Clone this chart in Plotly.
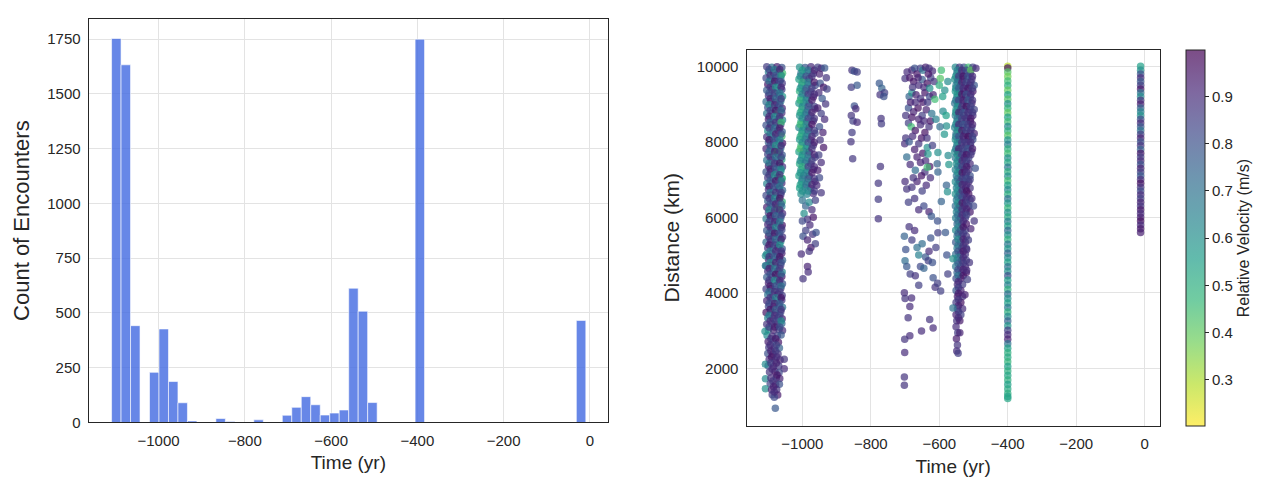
import numpy as np
import plotly.graph_objects as go

# ---- histogram: encounters per time bin (50 bins) ----
bin_min, bin_max = -1109.0, -9.4
hist_counts = [1753, 1633, 442, 0, 229, 427, 187, 90, 7, 0,
               0, 18, 4, 0, 0, 12, 0, 0, 33, 69,
               118, 81, 34, 43, 57, 613, 508, 91, 0, 0,
               0, 0, 1750, 0, 0, 0, 0, 0, 0, 0,
               0, 0, 0, 0, 0, 0, 0, 0, 0, 466]

# ---- scatter: (time yr, distance km, relative velocity m/s) ----
col_a = [
    (-1104, 9990, .86), (-1089, 9980, .72), (-1074, 9990, .93), (-1060, 9970, .80),
    (-1099, 9850, .65), (-1084, 9830, .91), (-1068, 9860, .78), (-1058, 9820, .45),
    (-1106, 9690, .83), (-1092, 9670, .60), (-1078, 9700, .90), (-1063, 9660, .74),
    (-1101, 9520, .95), (-1086, 9540, .81), (-1071, 9510, .68), (-1059, 9550, .87),
    (-1104, 9370, .77), (-1089, 9380, .94), (-1074, 9360, .62), (-1060, 9390, .85),
    (-1099, 9220, .90), (-1084, 9210, .70), (-1068, 9230, .84), (-1058, 9200, .58),
    (-1106, 9060, .73), (-1092, 9070, .88), (-1078, 9050, .96), (-1063, 9080, .66),
    (-1101, 8910, .82), (-1086, 8900, .63), (-1071, 8920, .79), (-1059, 8890, .92),
    (-1104, 8750, .69), (-1089, 8760, .85), (-1074, 8740, .50), (-1060, 8770, .90),
    (-1099, 8600, .94), (-1084, 8590, .76), (-1068, 8610, .87), (-1058, 8580, .64),
    (-1106, 8440, .80), (-1092, 8450, .97), (-1078, 8430, .71), (-1063, 8460, .86),
    (-1101, 8290, .61), (-1086, 8280, .83), (-1071, 8300, .92), (-1059, 8270, .75),
    (-1104, 8130, .88), (-1089, 8140, .67), (-1074, 8120, .80), (-1060, 8150, .44),
    (-1099, 7980, .76), (-1084, 7970, .90), (-1068, 7990, .63), (-1058, 7960, .95),
    (-1106, 7820, .92), (-1092, 7830, .74), (-1078, 7810, .86), (-1063, 7840, .69),
    (-1101, 7670, .84), (-1086, 7660, .58), (-1071, 7680, .93), (-1059, 7650, .78),
    (-1104, 7510, .70), (-1089, 7520, .89), (-1074, 7500, .76), (-1060, 7530, .52),
    (-1099, 7360, .95), (-1084, 7350, .81), (-1068, 7370, .66), (-1058, 7340, .88),
    (-1106, 7200, .79), (-1092, 7210, .93), (-1078, 7190, .84), (-1063, 7220, .62),
    (-1101, 7050, .87), (-1086, 7040, .71), (-1071, 7060, .96), (-1059, 7030, .48),
    (-1104, 6890, .64), (-1089, 6900, .85), (-1074, 6880, .78), (-1060, 6910, .91),
    (-1099, 6740, .90), (-1084, 6730, .68), (-1068, 6750, .94), (-1058, 6720, .74),
    (-1106, 6580, .82), (-1092, 6590, .96), (-1078, 6570, .60), (-1063, 6600, .86),
    (-1101, 6430, .75), (-1086, 6420, .88), (-1071, 6440, .81), (-1059, 6410, .48),
    (-1104, 6270, .93), (-1089, 6280, .72), (-1074, 6260, .87), (-1060, 6290, .66),
    (-1099, 6120, .85), (-1084, 6110, .94), (-1068, 6130, .70), (-1058, 6100, .90),
    (-1106, 5960, .68), (-1092, 5970, .80), (-1078, 5950, .92), (-1063, 5980, .77),
    (-1101, 5810, .91), (-1086, 5800, .63), (-1071, 5820, .85), (-1059, 5790, .95),
    (-1104, 5650, .78), (-1089, 5660, .90), (-1074, 5640, .74), (-1060, 5670, .83),
    (-1099, 5500, .96), (-1084, 5490, .84), (-1068, 5510, .66), (-1058, 5480, .88),
    (-1106, 5340, .72), (-1092, 5350, .93), (-1078, 5330, .86), (-1063, 5360, .61),
    (-1101, 5190, .89), (-1086, 5180, .77), (-1071, 5200, .95), (-1059, 5170, .80),
    (-1104, 5030, .62), (-1089, 5040, .86), (-1074, 5020, .79), (-1060, 5050, .92),
    (-1099, 4880, .94), (-1084, 4870, .70), (-1068, 4890, .88), (-1058, 4860, .75),
    (-1106, 4720, .81), (-1092, 4730, .97), (-1078, 4710, .67), (-1063, 4740, .86),
    (-1101, 4570, .88), (-1086, 4560, .74), (-1071, 4580, .92), (-1059, 4550, .63),
    (-1104, 4410, .76), (-1089, 4420, .90), (-1074, 4400, .83), (-1060, 4430, .95),
    (-1099, 4260, .93), (-1084, 4250, .66), (-1068, 4270, .87), (-1058, 4240, .79),
    (-1106, 4100, .85), (-1092, 4110, .95), (-1078, 4090, .72), (-1063, 4120, .90),
    (-1101, 3950, .70), (-1086, 3940, .82), (-1071, 3960, .96), (-1059, 3930, .86),
    (-1104, 3790, .91), (-1089, 3800, .78), (-1074, 3780, .64), (-1060, 3810, .88),
    (-1099, 3640, .83), (-1084, 3630, .94), (-1068, 3650, .80), (-1058, 3620, .69),
    (-1106, 3480, .96), (-1092, 3490, .72), (-1078, 3470, .89), (-1063, 3500, .84),
    (-1101, 3330, .65), (-1086, 3320, .90), (-1071, 3340, .82), (-1059, 3310, .93),
    (-1104, 3170, .88), (-1089, 3180, .80), (-1074, 3160, .95), (-1060, 3190, .74),
    (-1099, 3020, .60), (-1084, 3010, .92), (-1068, 3030, .86), (-1058, 3000, .90),
    (-1103, 2870, .62), (-1088, 2850, .90), (-1073, 2860, .84), (-1062, 2880, .78),
    (-1100, 2700, .93), (-1085, 2710, .80), (-1070, 2690, .95),
    (-1098, 2550, .86), (-1082, 2530, .92), (-1067, 2540, .75),
    (-1101, 2390, .80), (-1086, 2370, .96), (-1071, 2380, .88),
    (-1097, 2230, .90), (-1080, 2210, .84), (-1065, 2220, .92), (-1053, 2240, .88),
    (-1100, 2070, .78), (-1084, 2050, .93), (-1069, 2060, .86), (-1053, 1990, .90),
    (-1096, 1900, .88), (-1080, 1910, .94), (-1068, 1890, .82),
    (-1108, 1720, .62), (-1092, 1740, .90), (-1076, 1750, .86), (-1066, 1730, .92),
    (-1094, 1590, .84), (-1078, 1570, .95), (-1067, 1580, .80),
    (-1108, 1460, .60), (-1090, 1430, .92), (-1075, 1440, .88),
    (-1088, 1300, .86), (-1072, 1290, .94), (-1082, 1230, .82), (-1079, 940, .78),
    (-1108, 4980, .62), (-1108, 4720, .65), (-1109, 2980, .60), (-1108, 2110, .62),
    (-1062, 9770, .42), (-1073, 7740, .45), (-1071, 6240, .45), (-1060, 7030, .48),
    # in-between rows
    (-1097, 9915, .84), (-1081, 9915, .66), (-1066, 9915, .92),
    (-1094, 9760, .90), (-1078, 9760, .78), (-1062, 9760, .62),
    (-1097, 9605, .70), (-1081, 9605, .95), (-1066, 9605, .83),
    (-1094, 9450, .88), (-1078, 9450, .60), (-1062, 9450, .91),
    (-1097, 9295, .79), (-1081, 9295, .86), (-1066, 9295, .68),
    (-1094, 9140, .93), (-1078, 9140, .74), (-1062, 9140, .87),
    (-1097, 8985, .62), (-1081, 8985, .90), (-1066, 8985, .80),
    (-1094, 8830, .85), (-1078, 8830, .95), (-1062, 8830, .72),
    (-1097, 8675, .91), (-1081, 8675, .64), (-1066, 8675, .88),
    (-1094, 8520, .76), (-1078, 8520, .89), (-1062, 8520, .46),
    (-1097, 8365, .87), (-1081, 8365, .73), (-1066, 8365, .94),
    (-1094, 8210, .69), (-1078, 8210, .92), (-1062, 8210, .81),
    (-1097, 8055, .95), (-1081, 8055, .80), (-1066, 8055, .66),
    (-1094, 7900, .82), (-1078, 7900, .58), (-1062, 7900, .90),
    (-1097, 7745, .74), (-1081, 7745, .93), (-1066, 7745, .86),
    (-1094, 7590, .90), (-1078, 7590, .70), (-1062, 7590, .84),
    (-1097, 7435, .66), (-1081, 7435, .88), (-1066, 7435, .95),
    (-1094, 7280, .92), (-1078, 7280, .78), (-1062, 7280, .62),
    (-1097, 7125, .85), (-1081, 7125, .60), (-1066, 7125, .90),
    (-1094, 6970, .78), (-1078, 6970, .94), (-1062, 6970, .72),
    (-1097, 6815, .93), (-1081, 6815, .82), (-1066, 6815, .68),
    (-1094, 6660, .70), (-1078, 6660, .89), (-1062, 6660, .85),
    (-1097, 6505, .88), (-1081, 6505, .65), (-1066, 6505, .96),
    (-1094, 6350, .80), (-1078, 6350, .92), (-1062, 6350, .76),
    (-1097, 6195, .62), (-1081, 6195, .86), (-1066, 6195, .90),
    (-1094, 6040, .95), (-1078, 6040, .74), (-1062, 6040, .82),
    (-1097, 5885, .83), (-1081, 5885, .91), (-1066, 5885, .67),
    (-1094, 5730, .90), (-1078, 5730, .64), (-1062, 5730, .88),
    (-1097, 5575, .76), (-1081, 5575, .95), (-1066, 5575, .81),
    (-1094, 5420, .86), (-1078, 5420, .72), (-1062, 5420, .93),
    (-1097, 5265, .94), (-1081, 5265, .84), (-1066, 5265, .60),
    (-1094, 5110, .68), (-1078, 5110, .90), (-1062, 5110, .86),
    (-1097, 4955, .88), (-1081, 4955, .77), (-1066, 4955, .95),
    (-1094, 4800, .63), (-1078, 4800, .93), (-1062, 4800, .80),
    (-1097, 4645, .92), (-1081, 4645, .70), (-1066, 4645, .87),
    (-1094, 4490, .80), (-1078, 4490, .96), (-1062, 4490, .74),
    (-1097, 4335, .86), (-1081, 4335, .62), (-1066, 4335, .91),
    (-1094, 4180, .94), (-1078, 4180, .82), (-1062, 4180, .70),
    (-1097, 4025, .72), (-1081, 4025, .90), (-1066, 4025, .85),
    (-1094, 3870, .89), (-1078, 3870, .66), (-1062, 3870, .95),
    (-1097, 3715, .82), (-1081, 3715, .93), (-1066, 3715, .78),
    (-1094, 3560, .95), (-1078, 3560, .76), (-1062, 3560, .88),
    (-1097, 3405, .68), (-1081, 3405, .90), (-1066, 3405, .84),
    (-1094, 3250, .91), (-1078, 3250, .85), (-1062, 3250, .62),
    (-1097, 3095, .86), (-1081, 3095, .94), (-1066, 3095, .80),
    (-1092, 2780, .88), (-1078, 2780, .94), (-1094, 2620, .90), (-1076, 2620, .84),
    (-1092, 2460, .92), (-1078, 2460, .86), (-1090, 2300, .95), (-1075, 2300, .90),
    (-1092, 2140, .86), (-1076, 2140, .92), (-1088, 1980, .90), (-1074, 1820, .95),
    (-1086, 1660, .88), (-1084, 1510, .92), (-1082, 1370, .90),
]

col_b = [
    (-1008, 9980, .60), (-992, 9970, .78), (-975, 9990, .90),
    (-1004, 9820, .72), (-987, 9830, .62), (-968, 9810, .88),
    (-1010, 9660, .55), (-996, 9650, .85), (-980, 9670, .93),
    (-1002, 9500, .65), (-984, 9510, .70), (-963, 9490, .82),
    (-1008, 9340, .50), (-992, 9350, .90), (-975, 9330, .86),
    (-1004, 9180, .62), (-987, 9170, .75), (-968, 9190, .95),
    (-1010, 9020, .58), (-996, 9030, .66), (-980, 9010, .88),
    (-1002, 8860, .45), (-984, 8850, .80), (-963, 8870, .92),
    (-1008, 8700, .60), (-992, 8710, .72), (-975, 8690, .85),
    (-1004, 8540, .52), (-987, 8530, .88), (-968, 8550, .90),
    (-1010, 8380, .64), (-996, 8390, .70), (-980, 8370, .96),
    (-1002, 8220, .50), (-984, 8210, .62), (-963, 8230, .84),
    (-1008, 8060, .58), (-992, 8070, .78), (-975, 8050, .92),
    (-1004, 7900, .47), (-987, 7890, .66), (-968, 7910, .88),
    (-1010, 7740, .55), (-996, 7750, .82), (-980, 7730, .95),
    (-1002, 7580, .62), (-984, 7570, .60), (-963, 7590, .86),
    (-1008, 7420, .52), (-992, 7430, .74), (-975, 7410, .90),
    (-1004, 7260, .60), (-987, 7250, .68), (-968, 7270, .93),
    (-1010, 7100, .56), (-996, 7110, .80), (-980, 7090, .88),
    (-1002, 6940, .63), (-984, 6930, .58), (-963, 6950, .92),
    (-1008, 6780, .55), (-992, 6790, .70), (-975, 6770, .85),
    (-1004, 6620, .60), (-987, 6610, .65), (-968, 6630, .90),
    (-1000, 9900, .55), (-983, 9900, .70), (-965, 9900, .92),
    (-1006, 9740, .62), (-989, 9740, .80), (-972, 9740, .88),
    (-1000, 9580, .50), (-983, 9580, .66), (-965, 9580, .95),
    (-1006, 9420, .58), (-989, 9420, .74), (-972, 9420, .86),
    (-1000, 9260, .64), (-983, 9260, .85), (-965, 9260, .90),
    (-1006, 9100, .48), (-989, 9100, .62), (-972, 9100, .93),
    (-1000, 8940, .60), (-983, 8940, .78), (-965, 8940, .85),
    (-1006, 8780, .54), (-989, 8780, .68), (-972, 8780, .92),
    (-1000, 8620, .62), (-983, 8620, .82), (-965, 8620, .88),
    (-1006, 8460, .46), (-989, 8460, .60), (-972, 8460, .95),
    (-1000, 8300, .58), (-983, 8300, .76), (-965, 8300, .86),
    (-1006, 8140, .52), (-989, 8140, .64), (-972, 8140, .90),
    (-1000, 7980, .60), (-983, 7980, .80), (-965, 7980, .93),
    (-1006, 7820, .44), (-989, 7820, .58), (-972, 7820, .88),
    (-1000, 7660, .56), (-983, 7660, .72), (-965, 7660, .92),
    (-1006, 7500, .62), (-989, 7500, .66), (-972, 7500, .85),
    (-1000, 7340, .50), (-983, 7340, .84), (-965, 7340, .90),
    (-1006, 7180, .58), (-989, 7180, .62), (-972, 7180, .94),
    (-1000, 7020, .64), (-983, 7020, .76), (-965, 7020, .88),
    (-1006, 6860, .55), (-989, 6860, .70), (-972, 6860, .92),
    (-1000, 6700, .60), (-983, 6700, .62), (-965, 6700, .86),
    (-955, 9980, .85), (-945, 9950, .90), (-935, 9960, .78), (-950, 9800, .92),
    (-930, 9700, .88), (-948, 9550, .80), (-938, 9450, .95), (-928, 9400, .85),
    (-952, 9300, .90), (-942, 9150, .78), (-932, 9000, .88), (-955, 8900, .93),
    (-945, 8750, .85), (-935, 8600, .90), (-950, 8400, .80), (-940, 8250, .92),
    (-948, 8050, .88), (-938, 7850, .95), (-952, 7650, .85), (-945, 7450, .90),
    (-955, 7250, .93), (-950, 7050, .82), (-958, 6850, .90), (-945, 6650, .88),
    (-1000, 6450, .70), (-990, 6300, .75), (-980, 6400, .62), (-972, 6200, .90),
    (-962, 6450, .85), (-995, 6100, .60), (-985, 5950, .88), (-968, 6000, .95),
    (-1000, 5900, .82), (-978, 5800, .90), (-990, 5650, .85), (-970, 5550, .88),
    (-998, 5500, .80), (-985, 5400, .92), (-975, 5200, .95), (-962, 5300, .85),
    (-1003, 5030, .90), (-980, 5100, .88), (-985, 4700, .92), (-983, 4550, .90),
    (-998, 4370, .88), (-960, 5600, .80),
]

col_c = [
    (-855, 9900, .88), (-848, 9870, .80), (-840, 9850, .85), (-857, 9450, .86),
    (-840, 9500, .78), (-848, 8950, .80), (-844, 8880, .90), (-857, 8700, .88),
    (-852, 8550, .85), (-840, 8520, .90), (-855, 8250, .86), (-858, 8000, .88),
    (-853, 7550, .87),
]

col_d = [
    (-775, 9550, .78), (-768, 9420, .75), (-760, 9300, .85), (-773, 9250, .88),
    (-762, 9200, .80), (-770, 8620, .88), (-769, 8480, .86), (-772, 7350, .88),
    (-778, 6900, .87), (-778, 6480, .86), (-778, 5960, .88),
]

col_e = [
    (-700, 9680, .88), (-688, 9200, .75), (-690, 8500, .85), (-698, 8100, .88),
    (-701, 7950, .90), (-695, 7600, .72), (-700, 6950, .90), (-695, 6750, .88),
    (-680, 9900, .92), (-672, 9950, .80), (-665, 9800, .95), (-655, 9950, .85),
    (-648, 9900, .70), (-640, 9980, .92), (-630, 9950, .88), (-620, 9880, .90),
    (-675, 9600, .95), (-660, 9500, .90), (-650, 9650, .78), (-635, 9550, .96),
    (-625, 9700, .85), (-680, 9300, .60), (-668, 9250, .93), (-655, 9150, .88),
    (-642, 9300, .95), (-628, 9200, .82), (-690, 8900, .80), (-675, 8800, .92),
    (-662, 8900, .96), (-650, 8700, .85), (-638, 8850, .92), (-622, 8750, .70),
    (-682, 8400, .45), (-670, 8300, .95), (-655, 8450, .90), (-642, 8250, .96),
    (-630, 8400, .88), (-688, 8000, .78), (-672, 7800, .93), (-660, 7950, .88),
    (-648, 7700, .95), (-635, 7850, .60), (-620, 7900, .85), (-685, 7400, .90),
    (-670, 7250, .72), (-655, 7450, .92), (-642, 7200, .88), (-628, 7350, .95),
    (-680, 6800, .88), (-665, 6950, .92), (-650, 6700, .85), (-638, 6850, .90),
    (-690, 6400, .85), (-672, 6500, .88), (-660, 6200, .90), (-645, 6300, .82),
    (-630, 6150, .92),
    (-694, 9850, .90), (-686, 9700, .95), (-678, 9450, .88), (-662, 9700, .92),
    (-645, 9450, .90), (-632, 9800, .95), (-615, 9600, .88), (-684, 9050, .93),
    (-670, 9050, .90), (-648, 9050, .95), (-634, 9050, .86), (-618, 9250, .92),
    (-698, 8700, .88), (-680, 8650, .95), (-660, 8600, .92), (-645, 8550, .90),
    (-626, 8550, .95), (-678, 8150, .90), (-652, 8100, .95), (-636, 8100, .88),
    (-665, 7600, .92), (-640, 7500, .90), (-676, 7050, .88), (-652, 7100, .95),
    (-626, 7050, .90),
    (-702, 5500, .75), (-698, 5150, .80), (-700, 4850, .72), (-695, 4700, .78),
    (-688, 5750, .88), (-680, 5400, .85), (-672, 5650, .90), (-665, 5200, .70),
    (-660, 5000, .65), (-650, 5300, .72), (-640, 4950, .78), (-630, 5100, .90),
    (-625, 5450, .80), (-610, 5200, .85), (-685, 4500, .85), (-670, 4450, .88),
    (-655, 4700, .82), (-645, 4650, .75), (-632, 4850, .85), (-618, 4400, .80),
    (-612, 4150, .88), (-605, 4250, .85), (-596, 4050, .85),
    (-702, 4000, .90), (-700, 3850, .88), (-681, 3860, .90), (-686, 3640, .90),
    (-691, 3340, .88), (-686, 2860, .90), (-701, 2770, .88), (-701, 2420, .90),
    (-702, 1770, .88), (-702, 1550, .88), (-652, 2990, .90), (-628, 3290, .88),
    (-618, 3070, .90), (-660, 4200, .85), (-620, 4800, .80),
]

col_f = [
    (-594, 9900, .45), (-597, 9680, .42), (-613, 9130, .45), (-628, 9420, .60),
    (-584, 9370, .60), (-589, 8810, .62), (-580, 8700, .55), (-604, 7720, .60),
    (-606, 7420, .75), (-604, 7200, .75), (-633, 7680, .58), (-635, 7330, .45),
    (-579, 8420, .60), (-574, 7640, .62), (-572, 7400, .58), (-594, 6420, .75),
    (-623, 6030, .78), (-604, 5590, .85), (-579, 6850, .75), (-576, 6680, .60),
    (-590, 9200, .55), (-600, 9500, .50), (-575, 9600, .62), (-585, 8200, .58),
    (-598, 8400, .72), (-610, 8600, .65), (-582, 5600, .78), (-578, 5000, .80),
    (-575, 4500, .85), (-605, 5900, .80),
]

col_g = [
    (-553, 9980, .62), (-541, 9980, .88), (-528, 9980, .80), (-515, 9980, .45), (-502, 9980, .85),
    (-549, 9820, .66), (-536, 9820, .93), (-522, 9820, .80), (-509, 9820, .90),
    (-555, 9660, .60), (-545, 9660, .85), (-532, 9660, .95), (-519, 9660, .75), (-505, 9660, .88),
    (-551, 9500, .68), (-538, 9500, .90), (-525, 9500, .82), (-511, 9500, .96), (-498, 9500, .78),
    (-553, 9340, .58), (-541, 9340, .80), (-528, 9340, .92), (-515, 9340, .86), (-502, 9340, .94),
    (-549, 9180, .64), (-536, 9180, .88), (-522, 9180, .96), (-509, 9180, .82),
    (-555, 9020, .70), (-545, 9020, .62), (-532, 9020, .90), (-519, 9020, .85), (-505, 9020, .93),
    (-551, 8860, .60), (-538, 8860, .95), (-525, 8860, .78), (-511, 8860, .88), (-498, 8860, .84),
    (-553, 8700, .66), (-541, 8700, .86), (-528, 8700, .94), (-515, 8700, .80), (-502, 8700, .90),
    (-549, 8540, .58), (-536, 8540, .92), (-522, 8540, .84), (-509, 8540, .96),
    (-555, 8380, .64), (-545, 8380, .78), (-532, 8380, .90), (-519, 8380, .86), (-505, 8380, .82),
    (-551, 8220, .70), (-538, 8220, .62), (-525, 8220, .95), (-511, 8220, .88), (-498, 8220, .92),
    (-553, 8060, .60), (-541, 8060, .90), (-528, 8060, .84), (-515, 8060, .94), (-502, 8060, .80),
    (-549, 7900, .66), (-536, 7900, .86), (-522, 7900, .92), (-509, 7900, .78),
    (-555, 7740, .62), (-545, 7740, .94), (-532, 7740, .80), (-519, 7740, .90), (-505, 7740, .86),
    (-553, 7580, .68), (-540, 7580, .88), (-527, 7580, .95), (-514, 7580, .82),
    (-550, 7420, .60), (-536, 7420, .92), (-523, 7420, .78), (-510, 7420, .90),
    (-553, 7260, .64), (-540, 7260, .84), (-527, 7260, .96), (-514, 7260, .88),
    (-550, 7100, .70), (-536, 7100, .90), (-523, 7100, .86), (-510, 7100, .80),
    (-553, 6940, .62), (-540, 6940, .95), (-527, 6940, .82), (-514, 6940, .92),
    (-550, 6780, .66), (-536, 6780, .80), (-523, 6780, .94), (-510, 6780, .88),
    (-553, 6620, .60), (-540, 6620, .90), (-527, 6620, .86), (-514, 6620, .96),
    (-550, 6460, .68), (-536, 6460, .84), (-523, 6460, .92), (-510, 6460, .80),
    (-553, 6300, .72), (-540, 6300, .96), (-527, 6300, .88), (-514, 6300, .85),
    (-550, 6140, .64), (-536, 6140, .90), (-523, 6140, .82), (-510, 6140, .94),
    (-552, 5980, .66), (-538, 5980, .92), (-524, 5980, .86),
    (-548, 5820, .74), (-534, 5820, .88), (-521, 5820, .95),
    (-552, 5660, .62), (-538, 5660, .96), (-524, 5660, .84),
    (-548, 5500, .70), (-534, 5500, .90), (-521, 5500, .88),
    (-552, 5340, .78), (-538, 5340, .85), (-524, 5340, .94),
    (-548, 5180, .66), (-534, 5180, .95), (-521, 5180, .82),
    (-552, 5020, .72), (-538, 5020, .90), (-524, 5020, .88),
    (-548, 4860, .80), (-534, 4860, .96), (-521, 4860, .86),
    (-552, 4700, .68), (-538, 4700, .92), (-524, 4700, .90),
    (-548, 4540, .75), (-534, 4540, .88), (-521, 4540, .95),
    (-551, 4380, .82), (-537, 4380, .95), (-547, 4220, .90), (-532, 4220, .86),
    (-551, 4060, .78), (-537, 4060, .92), (-547, 3900, .94), (-532, 3900, .88),
    (-551, 3740, .86), (-537, 3740, .96), (-547, 3580, .80), (-532, 3580, .90),
    (-551, 3420, .92), (-537, 3420, .85), (-549, 3260, .88), (-540, 3260, .94),
    (-551, 3100, .90), (-546, 2940, .86), (-540, 2940, .92), (-550, 2780, .94),
    (-547, 2620, .88), (-549, 2460, .90), (-545, 2400, .86),
    # in-between rows
    (-547, 9900, .64), (-534, 9900, .90), (-521, 9900, .82), (-508, 9900, .40),
    (-552, 9740, .60), (-543, 9740, .86), (-530, 9740, .95), (-516, 9740, .80), (-503, 9740, .90),
    (-547, 9580, .66), (-534, 9580, .92), (-521, 9580, .84), (-508, 9580, .88),
    (-552, 9420, .62), (-543, 9420, .78), (-530, 9420, .90), (-516, 9420, .94), (-503, 9420, .85),
    (-547, 9260, .58), (-534, 9260, .95), (-521, 9260, .80), (-508, 9260, .90),
    (-552, 9100, .68), (-543, 9100, .84), (-530, 9100, .92), (-516, 9100, .78), (-503, 9100, .88),
    (-547, 8940, .62), (-534, 8940, .88), (-521, 8940, .96), (-508, 8940, .84),
    (-552, 8780, .60), (-543, 8780, .92), (-530, 8780, .80), (-516, 8780, .90), (-503, 8780, .86),
    (-547, 8620, .70), (-534, 8620, .84), (-521, 8620, .88), (-508, 8620, .94),
    (-552, 8460, .64), (-543, 8460, .90), (-530, 8460, .78), (-516, 8460, .86), (-503, 8460, .92),
    (-547, 8300, .60), (-534, 8300, .94), (-521, 8300, .82), (-508, 8300, .88),
    (-552, 8140, .66), (-543, 8140, .80), (-530, 8140, .92), (-516, 8140, .96), (-503, 8140, .84),
    (-547, 7980, .62), (-534, 7980, .88), (-521, 7980, .86), (-508, 7980, .90),
    (-552, 7820, .68), (-543, 7820, .92), (-530, 7820, .84), (-516, 7820, .80), (-503, 7820, .94),
    (-547, 7660, .60), (-534, 7660, .86), (-521, 7660, .95), (-508, 7660, .88),
    (-546, 7500, .62), (-533, 7500, .90), (-520, 7500, .86),
    (-546, 7340, .66), (-533, 7340, .84), (-520, 7340, .94),
    (-546, 7180, .60), (-533, 7180, .95), (-520, 7180, .88),
    (-546, 7020, .70), (-533, 7020, .86), (-520, 7020, .82),
    (-546, 6860, .64), (-533, 6860, .92), (-520, 6860, .90),
    (-546, 6700, .62), (-533, 6700, .88), (-520, 6700, .96),
    (-546, 6540, .68), (-533, 6540, .82), (-520, 6540, .90),
    (-546, 6380, .60), (-533, 6380, .94), (-520, 6380, .86),
    (-546, 6220, .66), (-533, 6220, .88), (-520, 6220, .92),
    (-546, 6060, .72), (-533, 6060, .90), (-520, 6060, .84),
    (-545, 5900, .70), (-530, 5900, .90), (-545, 5740, .64), (-530, 5740, .95),
    (-545, 5580, .76), (-530, 5580, .86), (-545, 5420, .62), (-530, 5420, .92),
    (-545, 5260, .70), (-530, 5260, .88), (-545, 5100, .80), (-530, 5100, .94),
    (-545, 4940, .66), (-530, 4940, .90), (-545, 4780, .74), (-530, 4780, .86),
    (-545, 4620, .82), (-530, 4620, .92), (-545, 4460, .70), (-530, 4460, .95),
    (-544, 4300, .90), (-544, 4140, .86), (-544, 3980, .94), (-544, 3820, .88),
    (-544, 3660, .92), (-544, 3500, .86), (-544, 3340, .90),
    (-510, 7000, .85), (-505, 6500, .90), (-500, 6300, .82), (-498, 5900, .88),
    (-508, 5700, .92), (-515, 5400, .85), (-520, 5150, .90), (-512, 4800, .88),
    (-518, 4350, .85), (-525, 3950, .92), (-520, 4600, .90), (-495, 7300, .80),
    (-493, 9950, .90), (-560, 4900, .60), (-560, 3600, .70),
]

# narrow streak at -400 yr: (distance km, velocity)
line_400 = [
    (10000, .28), (9960, .95), (9850, .42), (9730, .38), (9610, .45), (9490, .50),
    (9370, .40), (9250, .55), (9130, .42), (9010, .60), (8890, .48), (8770, .40),
    (8650, .55), (8530, .45), (8410, .62), (8290, .50), (8170, .42), (8050, .58),
    (7930, .65), (7810, .50), (7690, .45), (7570, .60), (7450, .52), (7330, .68),
    (7210, .50), (7090, .60), (6970, .45), (6850, .55), (6730, .62), (6610, .50),
    (6490, .70), (6370, .58), (6250, .48), (6130, .60), (6010, .52), (5890, .65),
    (5770, .55), (5650, .72), (5530, .60), (5410, .50), (5290, .68), (5170, .58),
    (5050, .75), (4930, .62), (4810, .55), (4690, .70), (4570, .60), (4450, .80),
    (4330, .55), (4210, .65), (4090, .50), (3970, .72), (3850, .60), (3730, .55),
    (3610, .68), (3490, .50), (3370, .62), (3250, .75), (3130, .58), (3010, .85),
    (2890, .90), (2770, .92), (2650, .70), (2530, .55), (2410, .50), (2290, .52),
    (2170, .48), (2050, .55), (1930, .50), (1810, .53), (1690, .50), (1570, .55),
    (1450, .52), (1330, .50), (1250, .55), (1200, .53),
]

# narrow streak at -12 yr
line_12 = [
    (10000, .55), (9900, .60), (9800, .80), (9700, .90), (9600, .78), (9500, .85),
    (9400, .95), (9300, .70), (9200, .62), (9100, .88), (9000, .93), (8900, .75),
    (8800, .65), (8700, .60), (8600, .82), (8500, .90), (8400, .78), (8300, .70),
    (8200, .85), (8100, .92), (8000, .80), (7900, .88), (7800, .75), (7700, .95),
    (7600, .85), (7500, .90), (7400, .80), (7300, .92), (7200, .85), (7100, .78),
    (7000, .90), (6900, .96), (6800, .88), (6700, .82), (6600, .90), (6500, .85),
    (6400, .92), (6300, .88), (6200, .95), (6100, .90), (6000, .93), (5900, .97),
    (5800, .90), (5700, .95), (5600, .93),
]

# reversed viridis with alpha 0.7 (matplotlib alpha also fades the colorbar)
viridis = ['#440154', '#482878', '#3e4989', '#31688e', '#26828e',
           '#1f9e89', '#35b779', '#6ece58', '#b5de2b', '#fde725']
def rgba(h, a=0.7):
    return 'rgba(%d,%d,%d,%.2f)' % (int(h[1:3], 16), int(h[3:5], 16), int(h[5:7], 16), a)
viridis_r = viridis[::-1]
cscale = [[i / (len(viridis_r) - 1), rgba(c)] for i, c in enumerate(viridis_r)]

edges = np.linspace(bin_min, bin_max, len(hist_counts) + 1)
centers = (edges[:-1] + edges[1:]) / 2
bw = edges[1] - edges[0]

pts = col_a + col_b + col_c + col_d + col_e + col_f + col_g
t_s, d_s, v_s = zip(*pts)
d400, v400 = zip(*line_400)
d12, v12 = zip(*line_12)

fig = go.Figure()
fig.add_trace(go.Bar(
    x=centers, y=hist_counts, width=bw,
    marker=dict(color='rgba(65,105,225,0.8)', line=dict(color='white', width=0.6)),
    xaxis='x', yaxis='y'))

mk = dict(size=7.5, coloraxis='coloraxis', line=dict(width=0))
fig.add_trace(go.Scatter(x=t_s, y=d_s, mode='markers',
                         marker=dict(color=v_s, **mk), xaxis='x2', yaxis='y2'))
fig.add_trace(go.Scatter(x=[-400] * len(d400), y=d400, mode='markers',
                         marker=dict(color=v400, **mk), xaxis='x2', yaxis='y2'))
fig.add_trace(go.Scatter(x=[-12] * len(d12), y=d12, mode='markers',
                         marker=dict(color=v12, **mk), xaxis='x2', yaxis='y2'))

ax = dict(showgrid=True, gridcolor='#e3e3e3', gridwidth=1, showline=True,
          linecolor='#262626', linewidth=1.2, mirror=True, zeroline=False,
          ticks='outside', ticklen=4, tickcolor='rgba(0,0,0,0)',
          tickfont=dict(size=15))

fig.update_layout(
    width=1269, height=495,
    margin=dict(l=0, r=0, t=0, b=0),
    paper_bgcolor='white', plot_bgcolor='white',
    showlegend=False,
    font=dict(family='Liberation Sans, Arial, sans-serif', size=15, color='#262626'),
    xaxis=dict(domain=[0.0636, 0.4728], range=[-1162, 42], dtick=200, tick0=0,
               title=dict(text='Time (yr)', font=dict(size=19), standoff=8), **ax),
    yaxis=dict(domain=[0.1489, 0.9778], range=[0, 1843], dtick=250,
               title=dict(text='Count of Encounters', font=dict(size=22), standoff=11), **ax),
    xaxis2=dict(domain=[0.582, 0.9076], anchor='y2', range=[-1163, 44], dtick=200, tick0=0,
                title=dict(text='Time (yr)', font=dict(size=19), standoff=8), **ax),
    yaxis2=dict(domain=[0.1424, 0.9137], anchor='x2', range=[480, 10433], dtick=2000, tick0=0,
                tickformat='d',
                title=dict(text='Distance (km)', font=dict(size=21), standoff=11), **ax),
    coloraxis=dict(
        cmin=0.202, cmax=0.998, colorscale=cscale,
        colorbar=dict(
            x=0.928, xanchor='left', xpad=0, y=0.1414, yanchor='bottom', ypad=0,
            len=0.7723, lenmode='fraction', thickness=19, thicknessmode='pixels',
            outlinewidth=1, outlinecolor='#262626',
            ticks='outside', ticklen=4, tickcolor='#262626',
            tickvals=[0.3, 0.4, 0.5, 0.6, 0.7, 0.8, 0.9], tickfont=dict(size=15),
            title=dict(text='Relative Velocity (m/s)', side='right', font=dict(size=16)),
        ),
    ),
)

fig.write_html("out.html")
